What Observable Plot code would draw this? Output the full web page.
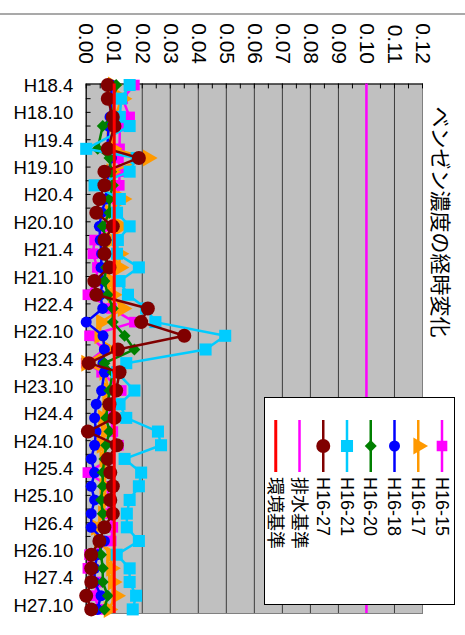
<!DOCTYPE html>
<html><head><meta charset="utf-8">
<script src="https://cdn.jsdelivr.net/npm/d3@7"></script>
<script src="https://cdn.jsdelivr.net/npm/@observablehq/plot@0.6"></script>
<style>
html,body{margin:0;padding:0;background:#fff;}
#page{position:relative;width:465px;height:635px;overflow:hidden;background:#fff;}
#chart{position:absolute;left:0;top:0;width:635px;height:465px;transform-origin:0 0;transform:translate(465px,0) rotate(90deg);}
#rule{position:absolute;left:13px;top:0;width:2px;height:465px;background:#a9a9a9;}
#title{position:absolute;left:0;width:444px;top:10px;text-align:center;font:21px "Noto Sans CJK JP",sans-serif;line-height:26px;color:#000;white-space:nowrap;}
#plot{position:absolute;left:0;top:0;}
#legend{position:absolute;left:397px;top:10px;}
</style></head>
<body>
<div id="page"><div id="chart">
<div id="rule"></div>
<div id="title">ベンゼン濃度の経時変化</div>
<div id="plot"></div>
<div id="legend"></div>
</div></div>
<script>
// sampling dates: months since H18.4
const months = [0,3,7,9,14,16,19,22,25,28,31,34,37,40,43,46,49,52,55,58,61,63,67,70,73,76,79,82,85,88,91,94,97,100,103,106,109,112,115];
const dateLabels = ["H18.4","H18.10","H19.4","H19.10","H20.4","H20.10","H21.4","H21.10","H22.4","H22.10","H23.4","H23.10","H24.4","H24.10","H25.4","H25.10","H26.4","H26.10","H27.4","H27.10"];
const dateLabelMonths = [0,6,12,18,24,30,36,42,48,54,60,66,72,78,84,90,96,102,108,114];
const dateTickMonths = [0,3,6,9,12,15,18,21,24,27,30,33,36,39,42,45,48,51,54,57,60,63,66,69,72,75,78,81,84,87,90,93,96,99,102,105,108,111,114];
const valueTicks = [0,0.01,0.02,0.03,0.04,0.05,0.06,0.07,0.08,0.09,0.10,0.11,0.12];
const valueLabels = ["0.00","0.01","0.02","0.03","0.04","0.05","0.06","0.07","0.08","0.09","0.10","0.11","0.12"];
const valueMinorTicks = [0,0.005,0.01,0.015,0.02,0.025,0.03,0.035,0.04,0.045,0.05,0.055,0.06,0.065,0.07,0.075,0.08,0.085,0.09,0.095,0.10,0.105,0.11,0.115,0.12];

const seriesNames = ["H16-15","H16-17","H16-18","H16-20","H16-21","H16-27"];
const h16_15 = [0.0172,0.013,0.0155,0.012,0.0119,0.0115,0.0119,0.0118,0.011,0.0105,0.0085,0.003,0.0024,0.004,0.0035,0.0006,0.009,0.0172,0.0012,0.0065,0.0,0.0055,0.0125,0.008,0.009,0.0095,0.0115,0.0085,0.0006,0.008,0.0075,0.0085,0.0095,0.0089,0.0012,0.0006,0.004,0.003,0.0045];
const h16_17 = [0.0095,0.013,0.01,0.009,0.0095,0.022,0.009,0.0085,0.013,0.0085,0.0125,0.009,0.0119,0.0119,0.009,0.0095,0.013,0.0053,0.0047,0.008,0.0,0.0065,0.008,0.0075,0.006,0.007,0.0055,0.0065,0.007,0.0065,0.007,0.006,0.0035,0.0045,0.0089,0.0089,0.0095,0.0107,0.008];
const h16_18 = [0.009,0.009,0.0085,0.008,0.0075,0.009,0.008,0.0075,0.007,0.0055,0.0047,0.005,0.0055,0.0053,0.006,0.005,0.0059,0.0,0.006,0.0065,0.006,0.0065,0.0055,0.0036,0.003,0.0035,0.003,0.0018,0.003,0.0018,0.003,0.0018,0.0018,0.0065,0.004,0.003,0.003,0.0053,0.004];
const h16_20 = [0.0107,0.01,0.0095,0.0059,0.0041,0.0083,0.0089,0.0095,0.0083,0.0083,0.0059,0.0071,0.0071,0.0071,0.0065,0.0077,0.0095,0.0095,0.0137,0.0172,0.0065,0.0095,0.0083,0.0077,0.0071,0.0083,0.0071,0.0065,0.0059,0.0059,0.0053,0.0059,0.0065,0.0047,0.0053,0.0059,0.0059,0.0077,0.0065];
const h16_21 = [0.0155,0.0125,0.012,0.0155,0.0,0.018,0.0155,0.003,0.012,0.011,0.0155,0.0113,0.011,0.0188,0.0119,0.0149,0.0214,0.0247,0.0496,0.0426,0.0143,0.011,0.0172,0.0119,0.0143,0.0256,0.0267,0.0137,0.0196,0.0188,0.0155,0.0145,0.0145,0.0188,0.0109,0.0155,0.0155,0.0178,0.0166];
const h16_27 = [0.0077,0.0077,0.0095,0.0101,0.0077,0.0188,0.0065,0.0065,0.0047,0.0036,0.0095,0.0065,0.0065,0.0083,0.0029,0.0036,0.022,0.0196,0.035,0.0113,0.0009,0.0119,0.0107,0.0083,0.0101,0.0006,0.0109,0.0077,0.0086,0.0095,0.0086,0.0095,0.0065,0.0047,0.0018,0.0018,0.0018,0.0,0.0018];
const drainStandard = 0.1;   // 排水基準
const envStandard = 0.01;    // 環境基準

const seriesValues = [h16_15,h16_17,h16_18,h16_20,h16_21,h16_27];
const seriesColors = ["#ff00ff","#ff9900","#0000ff","#008000","#00ccff","#800000"];
const seriesSymbols = ["square","triangle","circle","diamond2","square","circle"];
const seriesR = [6,6.3,5.5,5.4,6.8,7];

const monthDomain = [-0.22, 115.9];
const tickShape = {draw(ctx, l) { ctx.moveTo(0, 0); ctx.lineTo(0, -l); }};

const seriesMarks = [];
seriesNames.forEach((name, i) => {
  const data = months.map((m, j) => ({m, v: seriesValues[i][j], name}));
  seriesMarks.push(Plot.line(data, {x: "m", y: "v", stroke: seriesColors[i], strokeWidth: 2.5}));
  seriesMarks.push(Plot.dot(data, {x: "m", y: "v", symbol: seriesSymbols[i], r: seriesR[i], fill: seriesColors[i], stroke: "none"}));
});

const chart = Plot.plot({
  width: 635, height: 465,
  marginLeft: 83.5, marginRight: 22, marginTop: 42, marginBottom: 86.7,
  x: {domain: monthDomain, axis: null},
  y: {domain: [0, 0.12], axis: null},
  style: {background: "transparent", overflow: "visible", fontFamily: "'Liberation Sans', Arial, sans-serif"},
  marks: [
    Plot.frame({fill: "#c0c0c0", stroke: "#808080"}),
    Plot.ruleY(valueTicks.slice(1, -1), {stroke: "#3c3c3c", strokeWidth: 1}),
    Plot.ruleY([0], {stroke: "#000", strokeWidth: 1.2}),
    Plot.ruleX([monthDomain[0]], {stroke: "#000", strokeWidth: 1.2}),
    Plot.vector(dateTickMonths, {x: d => d, frameAnchor: "bottom", length: 4, rotate: 0, anchor: "start", shape: tickShape, stroke: "#000", strokeWidth: 1}),
    Plot.vector(valueMinorTicks, {y: d => d, frameAnchor: "left", length: 4, rotate: 90, anchor: "start", shape: tickShape, stroke: "#000", strokeWidth: 1}),
    Plot.text(dateLabelMonths, {x: d => d, frameAnchor: "bottom", dx: 7, dy: 13, rotate: -90, textAnchor: "end", text: (d, i) => dateLabels[i], fontSize: 18.5, fill: "#000"}),
    Plot.text(valueTicks, {y: d => d, frameAnchor: "left", dx: -20, textAnchor: "end", text: (d, i) => valueLabels[i], fontSize: 21, fill: "#000", fontFamily: "'Liberation Sans Narrow', 'Arial Narrow', 'Liberation Sans', sans-serif"}),
    ...seriesMarks,
    Plot.ruleY([drainStandard], {stroke: "#ff00ff", strokeWidth: 2.5}),
    Plot.ruleY([envStandard], {stroke: "#ff0000", strokeWidth: 3})
  ]
});
document.getElementById("plot").appendChild(chart);

// legend
const legendNames = ["H16-15","H16-17","H16-18","H16-20","H16-21","H16-27","排水基準","環境基準"];
const legendColors = [...seriesColors, "#ff00ff", "#ff0000"];
const legendSymbols = [...seriesSymbols, null, null];
const legendR = [...seriesR, 0, 0];
const legendW = [2.5,2.5,2.5,2.5,2.5,2.5,2.5,3];
const symMap = {square: d3.symbolSquare, triangle: d3.symbolTriangle, circle: d3.symbolCircle, diamond2: d3.symbolDiamond2};
const lw = 208, lh = 191;
const svg = d3.select("#legend").append("svg").attr("width", lw).attr("height", lh);
svg.append("rect").attr("x", 0.5).attr("y", 0.5).attr("width", lw - 1).attr("height", lh - 1).attr("fill", "#fff").attr("stroke", "#000");
legendNames.forEach((name, i) => {
  const y = 13 + i * 23.75;
  const g = svg.append("g").attr("transform", `translate(0,${y})`);
  g.append("line").attr("x1", 23).attr("x2", 75).attr("y1", 0).attr("y2", 0).attr("stroke", legendColors[i]).attr("stroke-width", legendW[i]);
  if (legendSymbols[i]) {
    g.append("path").attr("transform", "translate(49,0)").attr("d", d3.symbol(symMap[legendSymbols[i]], Math.PI * legendR[i] * legendR[i])()).attr("fill", legendColors[i]);
  }
  g.append("text").attr("x", 80).attr("y", 0).attr("dy", "0.35em").attr("font-size", 18)
    .attr("font-family", "'Liberation Sans', Arial, 'Noto Sans CJK JP', sans-serif").attr("fill", "#000").text(name);
});
</script>
</body></html>
